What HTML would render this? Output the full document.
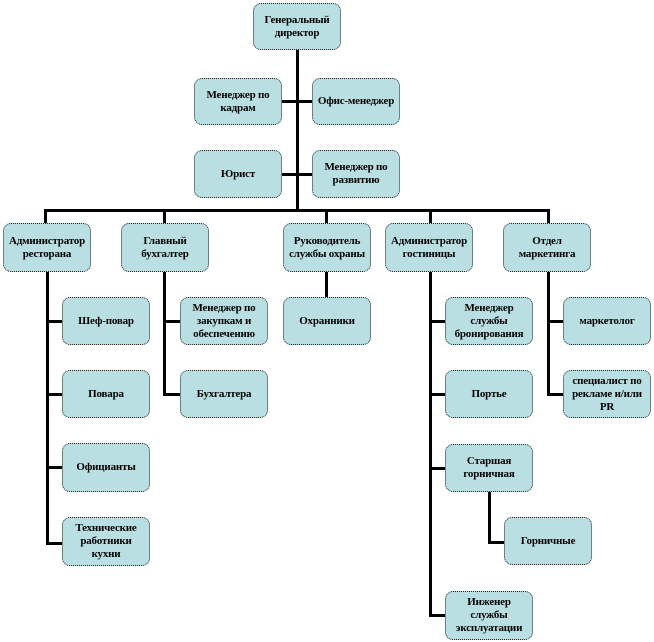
<!DOCTYPE html>
<html><head><meta charset="utf-8"><style>
body{margin:0;width:654px;height:642px;background:#fff;position:relative;overflow:hidden;font-family:"Liberation Serif",serif}
.b{position:absolute;box-sizing:border-box;background:#b9dfe2;border:1.5px dotted #222;border-radius:8px;display:flex;align-items:center;justify-content:center;text-align:center;font-weight:bold;font-size:11px;line-height:13px;color:#000;padding:0 1px;letter-spacing:-0.2px}
.l{position:absolute;background:#000}
</style></head><body>
<div class="l" style="left:296px;top:50px;width:3px;height:162px"></div>
<div class="l" style="left:281px;top:100px;width:31px;height:3px"></div>
<div class="l" style="left:282px;top:173px;width:30px;height:3px"></div>
<div class="l" style="left:44px;top:209px;width:506px;height:3px"></div>
<div class="l" style="left:44px;top:209px;width:3px;height:14px"></div>
<div class="l" style="left:163px;top:209px;width:3px;height:14px"></div>
<div class="l" style="left:325px;top:209px;width:3px;height:14px"></div>
<div class="l" style="left:429px;top:209px;width:3px;height:14px"></div>
<div class="l" style="left:547px;top:209px;width:3px;height:14px"></div>
<div class="l" style="left:46px;top:272px;width:3px;height:273px"></div>
<div class="l" style="left:46px;top:320px;width:16px;height:3px"></div>
<div class="l" style="left:46px;top:393px;width:16px;height:3px"></div>
<div class="l" style="left:46px;top:466px;width:16px;height:3px"></div>
<div class="l" style="left:46px;top:542px;width:16px;height:3px"></div>
<div class="l" style="left:163px;top:272px;width:3px;height:124px"></div>
<div class="l" style="left:163px;top:320px;width:17px;height:3px"></div>
<div class="l" style="left:163px;top:393px;width:17px;height:3px"></div>
<div class="l" style="left:325px;top:272px;width:3px;height:25px"></div>
<div class="l" style="left:429px;top:272px;width:3px;height:345px"></div>
<div class="l" style="left:429px;top:320px;width:16px;height:3px"></div>
<div class="l" style="left:429px;top:393px;width:16px;height:3px"></div>
<div class="l" style="left:429px;top:467px;width:16px;height:3px"></div>
<div class="l" style="left:429px;top:614px;width:16px;height:3px"></div>
<div class="l" style="left:488px;top:492px;width:3px;height:52px"></div>
<div class="l" style="left:488px;top:541px;width:16px;height:3px"></div>
<div class="l" style="left:547px;top:272px;width:3px;height:124px"></div>
<div class="l" style="left:547px;top:320px;width:16px;height:3px"></div>
<div class="l" style="left:547px;top:393px;width:16px;height:3px"></div>

<div class="b" style="left:253px;top:3px;width:88px;height:47px">Генеральный<br>директор</div>
<div class="b" style="left:194px;top:78px;width:88px;height:47px">Менеджер по<br>кадрам</div>
<div class="b" style="left:312px;top:78px;width:88px;height:47px">Офис-менеджер</div>
<div class="b" style="left:194px;top:150px;width:88px;height:48px">Юрист</div>
<div class="b" style="left:312px;top:150px;width:88px;height:48px">Менеджер по<br>развитию</div>

<div class="b" style="left:3px;top:223px;width:88px;height:49px">Администратор<br>ресторана</div>
<div class="b" style="left:121px;top:223px;width:88px;height:49px">Главный<br>бухгалтер</div>
<div class="b" style="left:283px;top:223px;width:88px;height:49px">Руководитель<br>службы охраны</div>
<div class="b" style="left:385px;top:223px;width:88px;height:49px">Администратор<br>гостиницы</div>
<div class="b" style="left:503px;top:223px;width:88px;height:49px">Отдел<br>маркетинга</div>

<div class="b" style="left:62px;top:297px;width:88px;height:48px">Шеф-повар</div>
<div class="b" style="left:62px;top:370px;width:88px;height:48px">Повара</div>
<div class="b" style="left:62px;top:443px;width:88px;height:49px">Официанты</div>
<div class="b" style="left:62px;top:517px;width:88px;height:49px">Технические<br>работники<br>кухни</div>

<div class="b" style="left:180px;top:297px;width:88px;height:48px">Менеджер по<br>закупкам и<br>обеспечению</div>
<div class="b" style="left:180px;top:370px;width:88px;height:48px">Бухгалтера</div>
<div class="b" style="left:283px;top:297px;width:88px;height:48px">Охранники</div>

<div class="b" style="left:445px;top:297px;width:88px;height:48px">Менеджер<br>службы<br>бронирования</div>
<div class="b" style="left:445px;top:370px;width:88px;height:48px">Портье</div>
<div class="b" style="left:445px;top:444px;width:88px;height:48px">Старшая<br>горничная</div>
<div class="b" style="left:504px;top:517px;width:88px;height:48px">Горничные</div>
<div class="b" style="left:445px;top:591px;width:88px;height:49px">Инженер<br>службы<br>эксплуатации</div>

<div class="b" style="left:563px;top:297px;width:88px;height:48px">маркетолог</div>
<div class="b" style="left:563px;top:370px;width:88px;height:48px">специалист по<br>рекламе и/или<br>PR</div>
</body></html>
